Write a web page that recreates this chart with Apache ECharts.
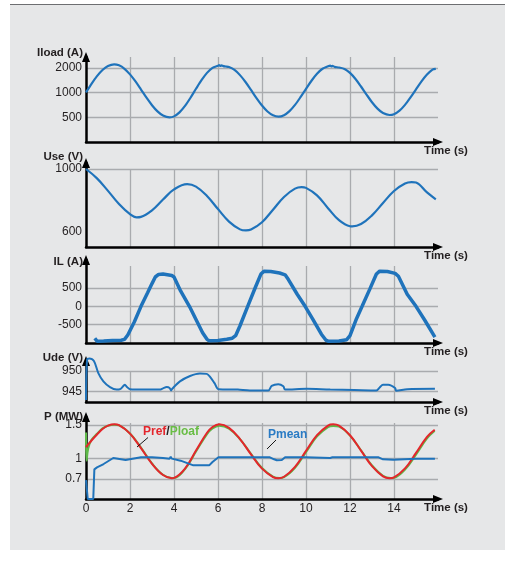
<!DOCTYPE html>
<html><head><meta charset="utf-8">
<script src="https://cdn.jsdelivr.net/npm/echarts@6/dist/echarts.min.js"></script>
<style>
html,body{margin:0;padding:0;background:#fff;width:507px;height:561px;overflow:hidden;}
#bg{position:absolute;left:10px;top:4px;width:495px;height:545px;background:#e6e7e8;border-top:1px solid #6d6e71;}
#chart{position:absolute;left:0;top:0;width:507px;height:561px;}
</style></head><body>
<div id="bg"></div><div id="chart"></div>
<script>
// ---- data ----
const timeTicks = [0, 2, 4, 6, 8, 10, 12, 14];

const iloadTicks = [500, 1000, 2000];
const iloadTime = [0,0.25,0.5,0.75,1.0,1.28,1.5,1.75,2.0,2.25,2.5,2.75,3.0,3.25,3.5,3.8,4.0,4.25,4.5,4.75,5.0,5.25,5.5,5.75,6.0,6.05,6.1,6.15,6.25,6.35,6.5,6.75,7.0,7.25,7.5,7.75,8.0,8.25,8.5,8.75,9.0,9.25,9.5,9.75,10.0,10.25,10.5,10.75,11.0,11.1,11.15,11.2,11.3,11.5,11.75,12.0,12.25,12.5,12.75,13.0,13.25,13.5,13.8,14.0,14.25,14.5,14.75,15.0,15.25,15.5,15.75,15.9];
const iloadValues = [1010,1284,1592,1892,2119,2219,2158,1960,1676,1372,1094,868,704,591,526,500,514,575,689,868,1117,1424,1747,2013,2130,2175,2125,2160,2110,2090,2056,1897,1640,1351,1080,860,698,590,530,510,531,595,709,882,1115,1400,1702,1960,2101,2140,2090,2125,2070,2030,1951,1746,1472,1191,950,765,639,564,534,547,604,711,876,1100,1377,1669,1918,1960];

const useTicks = [600, 1000];
const useGridVals = [1000];
const useTime = [0,0.5,1.0,1.5,2.0,2.3,2.5,3.0,3.5,4.0,4.6,5.0,5.5,6.0,6.5,7.0,7.27,7.5,8.0,8.5,9.0,9.5,9.8,10.0,10.5,11.0,11.5,12.0,12.1,12.5,13.0,13.5,14.0,14.5,14.8,15.0,15.5,15.9];
const useValues = [1000,940,860,775,710,690,693,735,804,869,903,887,827,743,663,613,606,612,659,739,821,874,884,879,831,749,672,633,632,647,703,782,859,907,916,913,850,806];

const ilTicks = [-500, 0, 500];
const ilTime = [0.4,0.5,0.8,1.2,1.6,1.75,1.9,2.2,2.5,2.8,3.0,3.15,3.3,3.5,3.7,3.9,4.0,4.3,4.7,5.0,5.3,5.5,5.6,6.0,6.4,6.65,6.8,7.0,7.35,7.7,7.95,8.1,8.4,8.8,9.05,9.2,9.6,9.96,10.3,10.7,10.9,11.0,11.5,11.85,12.0,12.3,12.55,12.9,13.2,13.35,13.7,14.05,14.2,14.6,15.0,15.4,15.86];
const ilValues = [-870,-950,-945,-935,-925,-900,-780,-420,0,370,620,800,870,880,860,840,800,420,0,-360,-720,-900,-940,-930,-900,-870,-800,-530,0,520,880,960,950,910,860,730,330,0,-340,-760,-920,-950,-945,-910,-800,-330,0,470,880,960,950,900,820,330,0,-380,-840];

const udeTicks = [945, 950];
const udeTime = [0,0.05,0.15,0.36,0.56,0.79,1.09,1.39,1.55,1.72,1.77,1.85,2.0,2.6,3.36,3.5,3.67,3.8,3.87,3.92,4.27,4.73,5.18,5.49,5.64,5.85,6.02,6.9,7.45,8.29,8.44,8.74,8.97,9.05,10.03,11.1,12.2,13.2,13.35,13.5,13.74,14.05,14.1,14.6,15.86];
const udeValues = [943,952.8,953,952.4,949.5,947.5,946.1,945.5,945.6,946.5,946.7,946.2,945.6,945.5,945.5,945.8,946.1,945.9,945.3,945.7,947.5,948.8,949.4,949.3,948.6,947,945.6,945.5,945.3,945.3,946.4,946.8,946.3,945.5,945.7,945.5,945.4,945.3,946,946.7,946.7,945.9,945.2,945.6,945.7];

const pTicks = [0.7, 1, 1.5];
const prefTime = [0,0.25,0.5,0.75,1.0,1.29,1.5,2.0,2.5,3.0,3.5,3.9,4.0,4.5,5.0,5.5,5.75,6.06,6.5,7.0,7.5,8.0,8.5,8.74,9.0,9.5,10.0,10.5,11.0,11.24,11.5,12.0,12.5,13.0,13.5,13.8,14.0,14.5,15.0,15.5,15.85];
const prefValues = [1.17,1.27,1.36,1.44,1.49,1.51,1.497,1.372,1.156,0.923,0.756,0.71,0.714,0.853,1.121,1.385,1.47,1.51,1.458,1.291,1.063,0.851,0.726,0.71,0.731,0.879,1.115,1.349,1.492,1.51,1.49,1.348,1.12,0.888,0.737,0.71,0.722,0.855,1.085,1.324,1.43];
const ploafTime = [0,0.03,0.1,0.25,0.5,0.75,1.0,1.29,1.5,2.0,2.5,3.0,3.5,3.9,4.0,4.5,5.0,5.5,5.75,6.06,6.5,7.0,7.5,8.0,8.5,8.8,9.0,9.5,10.0,10.5,11.0,11.24,11.5,12.0,12.5,13.0,13.5,13.85,14.0,14.5,15.0,15.5,15.85];
const ploafValues = [1.39,0.97,1.15,1.28,1.37,1.45,1.49,1.505,1.495,1.375,1.165,0.93,0.76,0.712,0.712,0.845,1.105,1.365,1.45,1.49,1.447,1.29,1.07,0.86,0.733,0.713,0.724,0.862,1.095,1.33,1.47,1.487,1.475,1.343,1.125,0.9,0.745,0.712,0.716,0.838,1.06,1.3,1.415];
const pmeanTime = [0,0.08,0.33,0.38,0.5,0.8,1.24,1.8,2.5,3.0,3.5,3.8,3.85,3.9,4.3,4.88,5.6,5.75,6.02,7.0,8.36,8.55,8.67,8.9,9.05,10.0,11.1,11.15,11.2,12.0,13.3,13.5,13.97,14.05,15.0,15.86];
const pmeanValues = [0.68,0.4,0.4,0.84,0.87,0.92,1.01,0.98,1.02,1.02,1.01,1.0,1.03,1.0,0.97,0.9,0.9,0.95,1.02,1.02,1.02,0.99,0.977,0.98,1.02,1.02,1.01,1.03,1.02,1.02,1.02,0.99,0.985,1.0,1.0,1.0];

// ---- styling / layout ----
const FONT = '"Liberation Sans", Arial, Helvetica, sans-serif';
const C = {blue:'#1f73bb', red:'#e4262c', green:'#5db947', grid:'#a9abae', text:'#231f20'};
const GL = 86, GW = 352;

const panels = [
  {name:'Iload (A)', top:57, bottom:142, axisTop:57, nameY:53, log:true, min:250, max:2730, ticks:iloadTicks, gridVals:iloadTicks},
  {name:'Use (V)', top:169, bottom:247, axisTop:163, nameY:157, min:500, max:1000, interval:100, ticks:useTicks, gridVals:useGridVals},
  {name:'IL (A)', top:266, bottom:343, axisTop:260, nameY:262, min:-1000, max:1100, interval:500, ticks:ilTicks, gridVals:ilTicks},
  {name:'Ude (V)', top:371, bottom:402, axisTop:361, nameY:358, min:942.5, max:950, interval:0.5, ticks:udeTicks, gridVals:udeTicks},
  {name:'P (MW)', top:423, bottom:499, axisTop:417, nameY:417, min:0.4, max:1.53, interval:0.1, ticks:pTicks, gridVals:pTicks}
];

const grids = [], xAxes = [], yAxes = [], series = [];
const dataIdx = [];
const pairs = (t, v) => t.map((x, i) => [x, v[i]]);
const nameStyle = {fontFamily:FONT, fontSize:11.5, fontWeight:'bold', color:C.text};
const axisLineStyle = {show:true, onZero:false, lineStyle:{color:'#000', width:2.5}, symbol:['none','triangle'], symbolSize:[8,10]};

panels.forEach((p, i) => {
  const di = grids.length;
  dataIdx.push(di);
  grids.push({left:GL, width:GW, top:p.top, height:p.bottom - p.top, containLabel:false, outerBoundsMode:'none'});
  xAxes.push({
    gridIndex:di, type:'value', min:0, max:16, interval:2, z:2,
    axisLine:axisLineStyle, axisTick:{show:false},
    axisLabel:{show:i === panels.length - 1, margin:4, fontSize:12, fontFamily:FONT, color:C.text,
      formatter:v => timeTicks.includes(v) ? String(v) : ''},
    splitLine:{show:true, showMinLine:false, showMaxLine:false, lineStyle:{color:C.grid, width:1.3}},
    name:'Time (s)', nameLocation:'end', nameGap:8,
    nameTextStyle:Object.assign({align:'center', verticalAlign:'top', padding:[3,0,0,0]}, nameStyle)
  });
  const y = {gridIndex:di, min:p.min, max:p.max, z:2, axisLine:{show:false}, axisTick:{show:false}, splitLine:{show:false}};
  if (p.log) {
    y.type = 'log'; y.logBase = 2; y.axisLabel = {show:false};
  } else {
    y.type = 'value'; y.interval = p.interval;
    y.axisLabel = {show:true, margin:4, fontSize:12, fontFamily:FONT, color:C.text,
      formatter:v => { const t = p.ticks.find(x => Math.abs(x - v) < 1e-6); return t === undefined ? '' : String(t); }};
  }
  yAxes.push(y);
  // horizontal grid lines (and labels for the log panel)
  series.push({
    type:'line', xAxisIndex:di, yAxisIndex:di, data:[], silent:true, z:1,
    markLine:{silent:true, z:1, animation:false, symbol:['none','none'],
      label:{show:!!p.log, position:'start', distance:4, fontSize:12, fontFamily:FONT, color:C.text},
      lineStyle:{color:C.grid, width:1.3, type:'solid'}, emphasis:{disabled:true},
      data:p.gridVals.map(g => ({yAxis:g, label:{formatter:String(g)}}))}
  });
  // axis grid: y axis with arrow and name
  const ai = grids.length;
  grids.push({left:GL, width:GW, top:p.axisTop, height:p.bottom - p.axisTop, containLabel:false, outerBoundsMode:'none'});
  xAxes.push({gridIndex:ai, type:'value', min:0, max:16, show:false});
  yAxes.push({gridIndex:ai, type:'value', min:0, max:1, z:2,
    axisLine:axisLineStyle, axisTick:{show:false}, axisLabel:{show:false}, splitLine:{show:false},
    name:p.name, nameLocation:'end', nameGap:p.axisTop - p.nameY,
    nameTextStyle:Object.assign({align:'right', verticalAlign:'middle', padding:[0,3,0,0]}, nameStyle)});
});

function lineSeries(k, t, v, color, width, smooth, extra) {
  return Object.assign({type:'line', xAxisIndex:dataIdx[k], yAxisIndex:dataIdx[k], data:pairs(t, v),
    symbol:'none', showSymbol:false, smooth:smooth, silent:true, z:3,
    lineStyle:{color:color, width:width}}, extra || {});
}
series.push(lineSeries(0, iloadTime, iloadValues, C.blue, 2.2, 0.3));
series.push(lineSeries(1, useTime, useValues, C.blue, 2.2, 0.4));
series.push(lineSeries(2, ilTime, ilValues, C.blue, 3.5, false));
series.push(lineSeries(3, udeTime, udeValues, C.blue, 2, 0.3, {clip:false}));
series.push(lineSeries(4, ploafTime, ploafValues, C.green, 2, 0.4));
series.push(lineSeries(4, prefTime, prefValues, C.red, 2, 0.4));
series.push(lineSeries(4, pmeanTime, pmeanValues, C.blue, 2, false, {clip:false}));

const option = {
  animation:false,
  backgroundColor:'transparent',
  grid:grids, xAxis:xAxes, yAxis:yAxes, series:series,
  graphic:[
    {type:'text', x:143, y:432, z:10, silent:true, style:{text:'{r|Pref}{k|/}{g|Ploaf}', verticalAlign:'middle', align:'left',
      rich:{r:{fill:C.red, fontWeight:'bold', fontSize:12, fontFamily:FONT},
            k:{fill:C.text, fontWeight:'bold', fontSize:12, fontFamily:FONT},
            g:{fill:'#69bd45', fontWeight:'bold', fontSize:12, fontFamily:FONT}}}},
    {type:'line', z:10, silent:true, shape:{x1:148, y1:437.5, x2:137, y2:447}, style:{stroke:'#000', lineWidth:0.9}},
    {type:'text', x:268, y:435, z:10, silent:true, style:{text:'Pmean', fill:'#2a7bc4', font:'bold 12px ' + FONT, verticalAlign:'middle', align:'left'}},
    {type:'line', z:10, silent:true, shape:{x1:276, y1:440, x2:267, y2:449}, style:{stroke:'#000', lineWidth:0.9}}
  ]
};
const chart = echarts.init(document.getElementById('chart'), null, {renderer:'canvas', width:507, height:561});
chart.setOption(option);
</script></body></html>
